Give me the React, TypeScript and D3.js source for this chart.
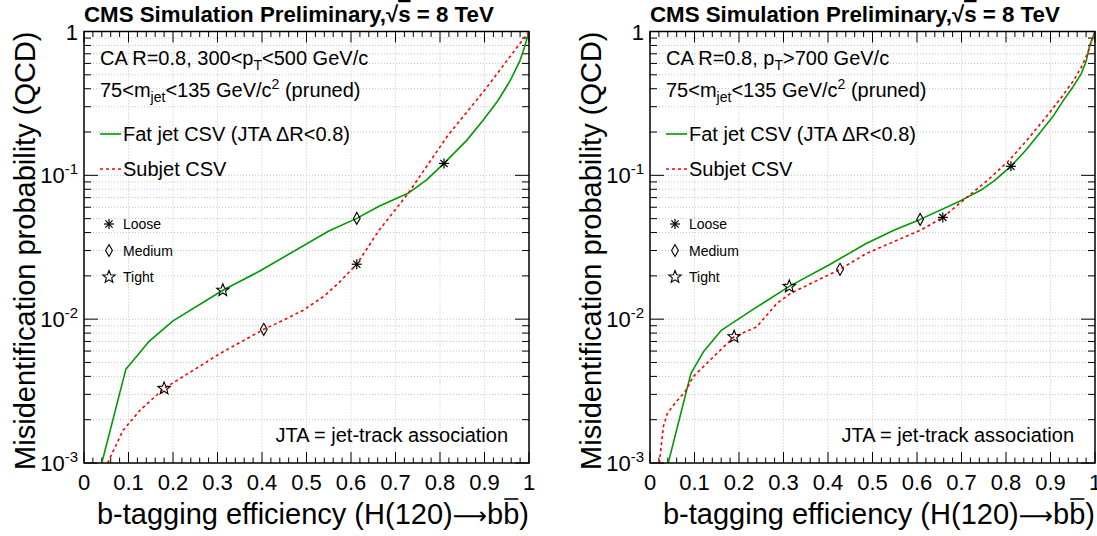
import React from "react";
import * as d3 from "d3";

const W = 1097;
const H = 536;

// x-axis ticks
const X_MAJOR = [0, 0.1, 0.2, 0.3, 0.4, 0.5, 0.6, 0.7, 0.8, 0.9, 1];
const X_LABELS = ["0", "0.1", "0.2", "0.3", "0.4", "0.5", "0.6", "0.7", "0.8", "0.9", "1"];
// y-axis decades
const Y_DECADES = [0.001, 0.01, 0.1, 1];
const Y_EXPONENTS = ["-3", "-2", "-1", ""];

// Left panel: 300 < pT < 500 GeV/c
const leftFatX = [0.040, 0.094, 0.120, 0.145, 0.200, 0.312, 0.395, 0.550, 0.613, 0.663, 0.728, 0.770, 0.809, 0.860, 0.896, 0.930, 0.958, 0.980, 0.990, 1.000];
const leftFatY = [0.0010, 0.00448, 0.0056, 0.00695, 0.00973, 0.0159, 0.0216, 0.041, 0.0502, 0.061, 0.075, 0.093, 0.121, 0.175, 0.24, 0.33, 0.457, 0.63, 0.78, 1.0];
const leftSubX = [0.053, 0.088, 0.126, 0.180, 0.250, 0.306, 0.404, 0.450, 0.493, 0.540, 0.571, 0.613, 0.663, 0.728, 0.818, 0.900, 1.000];
const leftSubY = [0.0010, 0.00169, 0.00233, 0.0033, 0.0045, 0.00578, 0.0085, 0.0099, 0.01155, 0.0145, 0.0177, 0.0241, 0.0415, 0.0746, 0.19, 0.39, 1.0];
// working points: Loose, Medium, Tight
const leftFatWpX = [0.809, 0.613, 0.312];
const leftFatWpY = [0.121, 0.0502, 0.0159];
const leftSubWpX = [0.613, 0.404, 0.180];
const leftSubWpY = [0.0241, 0.0085, 0.0033];

// Right panel: pT > 700 GeV/c
const rightFatX = [0.041, 0.092, 0.120, 0.161, 0.230, 0.313, 0.404, 0.486, 0.548, 0.607, 0.697, 0.743, 0.774, 0.811, 0.845, 0.875, 0.905, 0.929, 0.950, 0.969, 0.980, 0.988, 1.0];
const rightFatY = [0.0010, 0.0042, 0.00593, 0.0084, 0.0116, 0.0169, 0.024, 0.0336, 0.0415, 0.0494, 0.0664, 0.0787, 0.092, 0.1155, 0.15, 0.195, 0.255, 0.332, 0.41, 0.508, 0.62, 0.80, 1.0];
const rightSubX = [0.021, 0.030, 0.039, 0.056, 0.079, 0.097, 0.135, 0.189, 0.240, 0.285, 0.315, 0.427, 0.486, 0.564, 0.611, 0.658, 0.704, 0.758, 0.807, 0.850, 0.890, 0.925, 0.952, 0.970, 0.983, 1.0];
const rightSubY = [0.0010, 0.00179, 0.00221, 0.0026, 0.00313, 0.00398, 0.00519, 0.00754, 0.00885, 0.01286, 0.01506, 0.0222, 0.0286, 0.0363, 0.042, 0.051, 0.067, 0.092, 0.127, 0.18, 0.254, 0.35, 0.457, 0.57, 0.70, 1.0];
const rightFatWpX = [0.811, 0.607, 0.313];
const rightFatWpY = [0.1155, 0.0494, 0.0169];
const rightSubWpX = [0.658, 0.427, 0.189];
const rightSubWpY = [0.051, 0.0222, 0.00754];

const WP_NAMES = ["Loose", "Medium", "Tight"];
const GREEN = "#009a00";
const RED = "#ff0000";
const FONT = "'Liberation Sans', Arial, Helvetica, sans-serif";

function Marker({ kind, x, y }: { kind: number; x: number; y: number }) {
  const r = 5;
  if (kind === 0) {
    return (
      <g stroke="#000" strokeWidth={1.2}>
        <line x1={x - r} y1={y} x2={x + r} y2={y} />
        <line x1={x} y1={y - r} x2={x} y2={y + r} />
        <line x1={x - r * 0.72} y1={y - r * 0.72} x2={x + r * 0.72} y2={y + r * 0.72} />
        <line x1={x - r * 0.72} y1={y + r * 0.72} x2={x + r * 0.72} y2={y - r * 0.72} />
      </g>
    );
  }
  if (kind === 1) {
    const d = `M${x},${y - 6}L${x + 3.4},${y}L${x},${y + 6}L${x - 3.4},${y}Z`;
    return <path d={d} fill="none" stroke="#000" strokeWidth={1.1} />;
  }
  const pts: string[] = [];
  for (let i = 0; i < 10; i++) {
    const a = -Math.PI / 2 + (i * Math.PI) / 5;
    const rr = i % 2 === 0 ? 6.5 : 2.8;
    pts.push(`${x + rr * Math.cos(a)},${y + rr * Math.sin(a)}`);
  }
  return <polygon points={pts.join(" ")} fill="none" stroke="#000" strokeWidth={1.1} />;
}

interface PanelProps {
  id: string;
  ox: number;
  fatX: number[];
  fatY: number[];
  subX: number[];
  subY: number[];
  fatWpX: number[];
  fatWpY: number[];
  subWpX: number[];
  subWpY: number[];
  ptText: React.ReactNode;
}

function Panel(p: PanelProps) {
  const x0 = p.ox;
  const x1 = p.ox + 445;
  const yTop = 31.5;
  const yBot = 463;
  const xs = d3.scaleLinear().domain([0, 1]).range([x0, x1]);
  const ys = d3.scaleLog().domain([0.001, 1]).range([yBot, yTop]);

  const line = d3
    .line<[number, number]>()
    .x((d) => xs(d[0]))
    .y((d) => ys(d[1]));

  const fatPts = p.fatX.map((v, i) => [v, p.fatY[i]] as [number, number]);
  const subPts = p.subX.map((v, i) => [v, p.subY[i]] as [number, number]);

  const xMinor = d3.range(0, 1.0001, 0.02);
  const yMinor: number[] = [];
  for (let e = -3; e < 0; e++) for (let m = 2; m <= 9; m++) yMinor.push(m * Math.pow(10, e));

  const lx = x0 + 16; // legend x
  const tfs = 29; // axis title font size
  const bEnd = x1 - 0.333 * tfs;
  const bStart = bEnd - 0.556 * tfs;
  return (
    <g fontFamily={FONT}>
      <defs>
        <clipPath id={`clip-${p.id}`}>
          <rect x={x0} y={yTop} width={x1 - x0} height={yBot - yTop} />
        </clipPath>
      </defs>
      {/* grid */}
      <g stroke="#c4c4c4" strokeWidth={1} strokeDasharray="1,2">
        {X_MAJOR.slice(1, -1).map((v) => (
          <line key={`gx${v}`} x1={xs(v)} x2={xs(v)} y1={yTop} y2={yBot} />
        ))}
        {yMinor.concat([0.01, 0.1]).map((v) => (
          <line key={`gy${v}`} x1={x0} x2={x1} y1={ys(v)} y2={ys(v)} />
        ))}
      </g>
      {/* ticks */}
      <g stroke="#000" strokeWidth={1}>
        {xMinor.map((v, i) => {
          const major = i % 5 === 0;
          const len = major ? 11 : 5.5;
          return (
            <g key={`tx${i}`}>
              <line x1={xs(v)} x2={xs(v)} y1={yBot} y2={yBot - len} />
              <line x1={xs(v)} x2={xs(v)} y1={yTop} y2={yTop + len} />
            </g>
          );
        })}
        {Y_DECADES.map((v) => (
          <g key={`ty${v}`}>
            <line x1={x0} x2={x0 + 14} y1={ys(v)} y2={ys(v)} />
            <line x1={x1} x2={x1 - 14} y1={ys(v)} y2={ys(v)} />
          </g>
        ))}
        {yMinor.map((v) => (
          <g key={`tym${v}`}>
            <line x1={x0} x2={x0 + 7} y1={ys(v)} y2={ys(v)} />
            <line x1={x1} x2={x1 - 7} y1={ys(v)} y2={ys(v)} />
          </g>
        ))}
      </g>
      {/* curves */}
      <g clipPath={`url(#clip-${p.id})`} fill="none" strokeLinejoin="round">
        <path d={line(fatPts) || ""} stroke={GREEN} strokeWidth={1.6} />
        <path d={line(subPts) || ""} stroke={RED} strokeWidth={1.6} strokeDasharray="3,3" />
      </g>
      {/* working points */}
      {p.fatWpX.map((v, i) => (
        <Marker key={`fw${i}`} kind={i} x={xs(v)} y={ys(p.fatWpY[i])} />
      ))}
      {p.subWpX.map((v, i) => (
        <Marker key={`sw${i}`} kind={i} x={xs(v)} y={ys(p.subWpY[i])} />
      ))}
      {/* frame */}
      <rect x={x0} y={yTop} width={x1 - x0} height={yBot - yTop} fill="none" stroke="#000" strokeWidth={1.5} />
      {/* tick labels */}
      <g fontSize={22} fill="#000">
        {X_MAJOR.map((v, i) => (
          <text key={`xl${v}`} x={xs(v)} y={490} textAnchor="middle">
            {X_LABELS[i]}
          </text>
        ))}
        {Y_DECADES.map((v, i) => (
          <text key={`yl${v}`} x={x0 - 6} y={ys(v) + 8} textAnchor="end">
            {Y_EXPONENTS[i] === "" ? (
              "1"
            ) : (
              <>
                10
                <tspan fontSize={15} dy={-9}>
                  {Y_EXPONENTS[i]}
                </tspan>
              </>
            )}
          </text>
        ))}
      </g>
      {/* axis titles */}
      <text x={x1} y={524} textAnchor="end" fontSize={tfs}>
        b-tagging efficiency (H(120)
        <tspan fontFamily="'DejaVu Sans', sans-serif" fontSize={24}>⟶</tspan>
        bb)
      </text>
      <line x1={bStart + 1} x2={bEnd - 1} y1={499} y2={499} stroke="#000" strokeWidth={1.6} />
      <text
        transform={`translate(${x0 - 49},${yTop}) rotate(-90)`}
        textAnchor="end"
        fontSize={29}
      >
        Misidentification probability (QCD)
      </text>
      {/* title */}
      <text x={x0} y={22} fontSize={22.3} fontWeight="bold">
        CMS Simulation Preliminary,
        <tspan>√</tspan>
        <tspan textDecoration="overline">s</tspan> = 8 TeV
      </text>
      {/* annotations */}
      <g fontSize={20}>
        <text x={lx} y={65}>{p.ptText}</text>
        <text x={lx} y={97}>
          75&lt;m
          <tspan fontSize={14} dy={5}>jet</tspan>
          <tspan dy={-5}>&lt;135 GeV/c</tspan>
          <tspan fontSize={14} dy={-8}>2</tspan>
          <tspan dy={8}> (pruned)</tspan>
        </text>
        <line x1={lx} x2={lx + 21} y1={134} y2={134} stroke={GREEN} strokeWidth={1.6} />
        <text x={lx + 23} y={141}>Fat jet CSV (JTA ΔR&lt;0.8)</text>
        <line x1={lx} x2={lx + 21} y1={169} y2={169} stroke={RED} strokeWidth={1.6} strokeDasharray="3,3" />
        <text x={lx + 23} y={176}>Subjet CSV</text>
        <text x={x1 - 21} y={442} textAnchor="end">JTA = jet-track association</text>
      </g>
      <g fontSize={14}>
        {WP_NAMES.map((n, i) => (
          <g key={n}>
            <Marker kind={i} x={x0 + 25} y={224 + i * 26.5} />
            <text x={x0 + 39} y={229 + i * 26.5}>{n}</text>
          </g>
        ))}
      </g>
    </g>
  );
}

export default function App() {
  return (
    <svg
      width={W}
      height={H}
      viewBox={`0 0 ${W} ${H}`}
      style={{ position: "absolute", left: 0, top: 0, background: "#fff" }}
    >
      <rect width={W} height={H} fill="#fff" />
      <Panel
        id="l"
        ox={84}
        fatX={leftFatX}
        fatY={leftFatY}
        subX={leftSubX}
        subY={leftSubY}
        fatWpX={leftFatWpX}
        fatWpY={leftFatWpY}
        subWpX={leftSubWpX}
        subWpY={leftSubWpY}
        ptText={
          <>
            CA R=0.8, 300&lt;p
            <tspan fontSize={14} dy={5}>T</tspan>
            <tspan dy={-5}>&lt;500 GeV/c</tspan>
          </>
        }
      />
      <Panel
        id="r"
        ox={650}
        fatX={rightFatX}
        fatY={rightFatY}
        subX={rightSubX}
        subY={rightSubY}
        fatWpX={rightFatWpX}
        fatWpY={rightFatWpY}
        subWpX={rightSubWpX}
        subWpY={rightSubWpY}
        ptText={
          <>
            CA R=0.8, p
            <tspan fontSize={14} dy={5}>T</tspan>
            <tspan dy={-5}>&gt;700 GeV/c</tspan>
          </>
        }
      />
    </svg>
  );
}
